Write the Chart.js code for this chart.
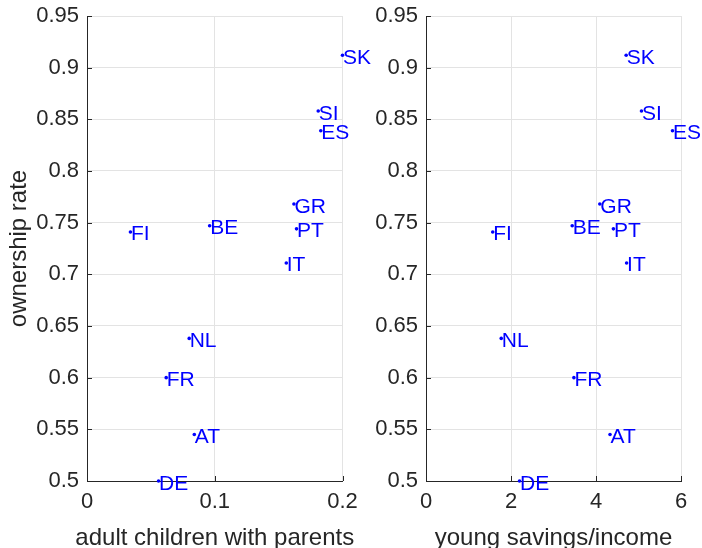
<!DOCTYPE html>
<html>
<head>
<meta charset="utf-8">
<script src="https://cdn.jsdelivr.net/npm/chart.js@4.4.1/dist/chart.umd.min.js"></script>
<style>
  body { margin: 0; background: #fff; }
  #wrap { position: relative; width: 702px; height: 548px; overflow: hidden; }
  canvas { position: absolute; top: 0; }
  #left { left: 0; }
  #right { left: 351px; }
</style>
</head>
<body>
<div id="wrap">
  <canvas id="left" width="400" height="548"></canvas>
  <canvas id="right" width="351" height="548"></canvas>
</div>
<script>
// country codes and values, same order in every array
var countries = ['SK', 'SI', 'ES', 'GR', 'PT', 'BE', 'FI', 'IT', 'NL', 'FR', 'AT', 'DE'];
var ownershipRate = [0.912, 0.858, 0.839, 0.768, 0.744, 0.747, 0.741, 0.711, 0.638, 0.600, 0.545, 0.500];
var adultChildren = [0.200, 0.181, 0.183, 0.162, 0.164, 0.096, 0.034, 0.156, 0.080, 0.062, 0.084, 0.056];
var youngSavings = [4.71, 5.07, 5.80, 4.09, 4.41, 3.44, 1.57, 4.72, 1.77, 3.48, 4.33, 2.20];

var yTicks = [0.5, 0.55, 0.6, 0.65, 0.7, 0.75, 0.8, 0.85, 0.9, 0.95];
var yTickLabels = ['0.5', '0.55', '0.6', '0.65', '0.7', '0.75', '0.8', '0.85', '0.9', '0.95'];
var childTicks = [0, 0.1, 0.2];
var childTickLabels = ['0', '0.1', '0.2'];
var savingsTicks = [0, 2, 4, 6];
var savingsTickLabels = ['0', '2', '4', '6'];

var fontFamily = '"Liberation Sans", Arial, Helvetica, sans-serif';
Chart.defaults.font.family = fontFamily;
Chart.defaults.color = '#262626';

var axisColor = '#262626';
var gridColor = '#e3e3e3';
var blue = '#0000ff';

// country code written just right of each dot
var pointLabels = {
  id: 'pointLabels',
  afterDatasetsDraw: function(chart) {
    var ctx = chart.ctx;
    var meta = chart.getDatasetMeta(0);
    ctx.save();
    ctx.fillStyle = blue;
    ctx.font = '21px ' + fontFamily;
    ctx.textAlign = 'left';
    ctx.textBaseline = 'alphabetic';
    meta.data.forEach(function(pt, i) {
      ctx.fillText(countries[i], pt.x + 0.5, pt.y + 8.5);
    });
    ctx.restore();
  }
};

// short tick marks pointing into the plot, matlab style
var innerTicks = {
  id: 'innerTicks',
  beforeDatasetsDraw: function(chart) {
    var ctx = chart.ctx;
    var xs = chart.scales.x, ys = chart.scales.y;
    var area = chart.chartArea;
    ctx.save();
    ctx.strokeStyle = axisColor;
    ctx.lineWidth = 1;
    ctx.beginPath();
    xs.ticks.forEach(function(t) {
      var px = Math.round(xs.getPixelForValue(t.value)) + 0.5;
      ctx.moveTo(px, area.bottom);
      ctx.lineTo(px, area.bottom - 5);
    });
    ys.ticks.forEach(function(t) {
      var py = Math.round(ys.getPixelForValue(t.value)) + 0.5;
      ctx.moveTo(area.left, py);
      ctx.lineTo(area.left + 5, py);
    });
    ctx.stroke();
    ctx.restore();
  }
};

// x axis title drawn by hand: the built-in one squeezes text wider than the plot
var xTitle = {
  id: 'xTitle',
  afterDraw: function(chart, args, opts) {
    var ctx = chart.ctx;
    var area = chart.chartArea;
    ctx.save();
    ctx.fillStyle = '#262626';
    ctx.font = '24px ' + fontFamily;
    ctx.textAlign = 'center';
    ctx.textBaseline = 'alphabetic';
    ctx.fillText(opts.text, (area.left + area.right) / 2, 545);
    ctx.restore();
  }
};

function makeChart(canvasId, xValues, xTicks, xTickLabels, xTitleText, yAxisWidth, rightPad, showYTitle) {
  var points = xValues.map(function(x, i) { return {x: x, y: ownershipRate[i]}; });
  return new Chart(document.getElementById(canvasId), {
    type: 'scatter',
    data: {
      datasets: [{
        data: points,
        pointRadius: 1.8,
        pointBorderWidth: 0,
        pointBackgroundColor: blue,
        clip: false
      }]
    },
    options: {
      responsive: false,
      animation: false,
      layout: { padding: { top: 16, right: rightPad, bottom: 0, left: 0 } },
      plugins: {
        legend: { display: false },
        tooltip: { enabled: false },
        xTitle: { text: xTitleText }
      },
      scales: {
        x: {
          type: 'linear',
          min: xTicks[0],
          max: xTicks[xTicks.length - 1],
          afterBuildTicks: function(scale) {
            scale.ticks = xTicks.map(function(v) { return {value: v}; });
          },
          afterFit: function(scale) {
            scale.height = 67;
            scale.paddingLeft = 0;
            scale.paddingRight = 0;
          },
          ticks: {
            font: { size: 22 },
            padding: 8,
            maxRotation: 0,
            callback: function(v, i) { return xTickLabels[i]; }
          },
          grid: { color: gridColor, drawTicks: false },
          border: { color: axisColor, width: 1 }
        },
        y: {
          type: 'linear',
          min: yTicks[0],
          max: yTicks[yTicks.length - 1],
          afterBuildTicks: function(scale) {
            scale.ticks = yTicks.map(function(v) { return {value: v}; });
          },
          afterFit: function(scale) {
            scale.width = yAxisWidth;
            scale.paddingTop = 0;
            scale.paddingBottom = 0;
          },
          ticks: {
            font: { size: 22 },
            padding: 8,
            callback: function(v, i) { return yTickLabels[i]; }
          },
          grid: { color: gridColor, drawTicks: false },
          border: { color: axisColor, width: 1 },
          title: {
            display: showYTitle,
            text: 'ownership rate',
            font: { size: 24 },
            padding: { top: 5, bottom: 0 }
          }
        }
      }
    },
    plugins: [innerTicks, pointLabels, xTitle]
  });
}

makeChart('left', adultChildren, childTicks, childTickLabels, 'adult children with parents', 87, 57.5, true);
makeChart('right', youngSavings, savingsTicks, savingsTickLabels, 'young savings/income', 75, 21, false);
</script>
</body>
</html>
